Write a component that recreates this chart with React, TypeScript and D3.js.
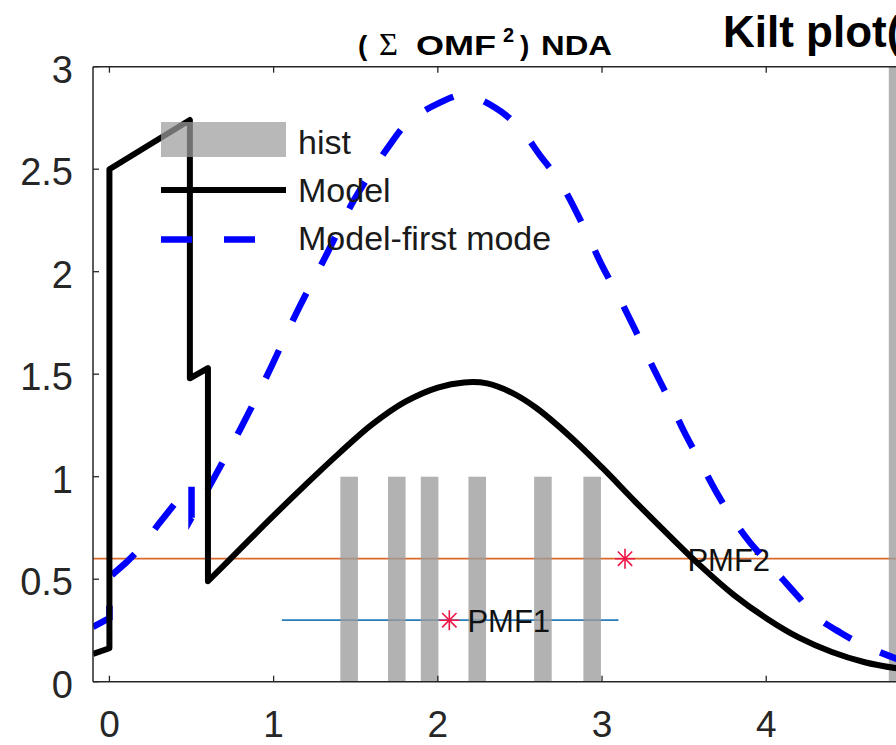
import React from "react";
import * as d3 from "d3";

// ---------- data ----------
const xTicks = [0, 1, 2, 3, 4];
const yTicks = [0, 0.5, 1, 1.5, 2, 2.5, 3];

const histCenters = [1.46, 1.75, 1.95, 2.24, 2.64, 2.94, 4.8];
const histCounts = [1, 1, 1, 1, 1, 1, 3.2];
const histBinWidth = 0.107;

// Model (black solid)
const modelX = [-0.1, 0, 0, 0.49, 0.49, 0.6, 0.6];
const modelY = [0.135, 0.163, 2.5, 2.74, 1.48, 1.53, 0.49];
const modelSmoothX = [0.6, 0.8, 1.0, 1.2, 1.4, 1.6, 1.8, 2.0, 2.16, 2.3, 2.45, 2.6, 2.8, 3.0, 3.2, 3.4, 3.6, 3.8, 4.0, 4.2, 4.4, 4.6, 4.8];
const modelSmoothY = [0.49, 0.65, 0.81, 0.965, 1.115, 1.255, 1.365, 1.435, 1.46, 1.455, 1.41, 1.335, 1.2, 1.045, 0.88, 0.72, 0.565, 0.425, 0.31, 0.215, 0.145, 0.095, 0.065];

// Model-first mode (blue dashed)
const firstModeX = [-0.1, 0, 0, 0.1, 0.2, 0.3, 0.4, 0.5, 0.5, 0.6];
const firstModeY = [0.267, 0.31, 0.51, 0.58, 0.66, 0.77, 0.87, 0.97, 0.8, 0.94];
const firstModeSmoothX = [0.6, 0.8, 0.97, 1.14, 1.32, 1.49, 1.7, 1.82, 2.0, 2.16, 2.35, 2.5, 2.62, 2.75, 2.9, 3.0, 3.1, 3.2, 3.3, 3.4, 3.5, 3.6, 3.7, 3.8, 3.9, 4.0, 4.1, 4.2, 4.3, 4.45, 4.6, 4.8];
const firstModeSmoothY = [0.94, 1.236, 1.51, 1.8, 2.08, 2.35, 2.61, 2.73, 2.82, 2.862, 2.8, 2.7, 2.57, 2.43, 2.2, 2.03, 1.88, 1.72, 1.55, 1.39, 1.22, 1.07, 0.92, 0.79, 0.68, 0.59, 0.5, 0.41, 0.32, 0.24, 0.175, 0.11];

// PMF reference lines
const pmfNames = ["PMF1", "PMF2"];
const pmfLevel = [0.3, 0.6];
const pmfStart = [1.05, -0.1];
const pmfEnd = [3.1, 5];
const pmfStarX = [2.07, 3.14];
const pmfLabelX = [2.18, 3.52];
const pmfColors = ["#2b7bb9", "#d9692a"];

const legendLabels = ["hist", "Model", "Model-first mode"];

// ---------- layout ----------
const W = 896;
const H = 745;
const FONT = "'Liberation Sans', Arial, Helvetica, sans-serif";

export default function App() {
  const x = d3.scaleLinear().domain([-0.1, 5]).range([93, 93 + 5.1 * 164.2]);
  const y = d3.scaleLinear().domain([0, 3]).range([681.7, 66.7]);
  const [x0, x1] = x.range();
  const [yb, yt] = y.range();

  const lin = d3.line<[number, number]>().x((d) => x(d[0])).y((d) => y(d[1]));
  const smooth = d3
    .line<[number, number]>()
    .x((d) => x(d[0]))
    .y((d) => y(d[1]))
    .curve(d3.curveCatmullRom.alpha(0.5));

  const zip = (a: number[], b: number[]) => a.map((v, i) => [v, b[i]] as [number, number]);
  const modelPath =
    (lin(zip(modelX, modelY)) || "") + (smooth(zip(modelSmoothX, modelSmoothY)) || "").replace(/^M/, "L");
  const firstPath =
    (lin(zip(firstModeX, firstModeY)) || "") +
    (smooth(zip(firstModeSmoothX, firstModeSmoothY)) || "").replace(/^M/, "L");

  const barW = x(histBinWidth) - x(0);
  const axisColor = "#262626";

  const star = (cx: number, cy: number, r: number, color: string, key: string) => (
    <g key={key} stroke={color} strokeWidth={1.6}>
      <line x1={cx - r} y1={cy} x2={cx + r} y2={cy} />
      <line x1={cx} y1={cy - r} x2={cx} y2={cy + r} />
      <line x1={cx - r * 0.72} y1={cy - r * 0.72} x2={cx + r * 0.72} y2={cy + r * 0.72} />
      <line x1={cx - r * 0.72} y1={cy + r * 0.72} x2={cx + r * 0.72} y2={cy - r * 0.72} />
    </g>
  );

  return (
    <svg
      width={W}
      height={H}
      viewBox={`0 0 ${W} ${H}`}
      style={{ position: "absolute", left: 0, top: 0, background: "#fff" }}
      fontFamily={FONT}
    >
      <defs>
        <clipPath id="plotClip">
          <rect x={x0} y={yt} width={x1 - x0} height={yb - yt} />
        </clipPath>
      </defs>
      <rect x={0} y={0} width={W} height={H} fill="#fff" />

      {/* titles */}
      <text y={55} fontSize={28} fontWeight="bold" fill="#000">
        <tspan x={358}>(</tspan>
        <tspan x={379} fontWeight="normal" fontFamily="'Liberation Serif', 'DejaVu Serif', serif" fontSize={31} textLength={19} lengthAdjust="spacingAndGlyphs">
          Σ
        </tspan>
        <tspan x={416} fontFamily={FONT} fontWeight="bold" fontSize={28} textLength={80} lengthAdjust="spacingAndGlyphs">
          OMF
        </tspan>
        <tspan x={503} y={42} fontSize={20}>
          2
        </tspan>
        <tspan x={520} y={55}>
          )
        </tspan>
        <tspan x={541} textLength={71} lengthAdjust="spacingAndGlyphs">
          NDA
        </tspan>
      </text>
      <text x={723} y={47} fontSize={44} fontWeight="bold" fill="#000">
        Kilt plot(
      </text>

      <g clipPath="url(#plotClip)">
        {/* PMF lines */}
        {pmfNames.map((n, i) => (
          <line
            key={n}
            x1={x(pmfStart[i])}
            x2={x(pmfEnd[i])}
            y1={y(pmfLevel[i])}
            y2={y(pmfLevel[i])}
            stroke={pmfColors[i]}
            strokeWidth={1.8}
          />
        ))}

        {/* histogram bars */}
        {histCenters.map((c, i) => (
          <rect
            key={i}
            x={x(c - histBinWidth / 2)}
            width={barW}
            y={y(histCounts[i])}
            height={yb - y(histCounts[i])}
            fill="#9c9c9c"
            fillOpacity={0.78}
          />
        ))}

        {/* PMF stars and labels */}
        {pmfNames.map((n, i) => star(x(pmfStarX[i]), y(pmfLevel[i]), 10, "#ee1547", "s" + n))}
        {pmfNames.map((n, i) => (
          <text key={"t" + n} x={x(pmfLabelX[i])} y={y(pmfLevel[i]) + 12} fontSize={31} fill="#111">
            {n}
          </text>
        ))}

        {/* curves */}
        <path d={firstPath} fill="none" stroke="#0000ff" strokeWidth={6.5} strokeDasharray="31 32" />
        <path d={modelPath} fill="none" stroke="#000" strokeWidth={6} strokeLinejoin="round" />
      </g>

      {/* axes box */}
      <line x1={x0} x2={x0} y1={yt} y2={yb} stroke={axisColor} strokeWidth={1.5} />
      <line x1={x0} x2={x1} y1={yb} y2={yb} stroke={axisColor} strokeWidth={1.5} />
      <line x1={x0} x2={x1} y1={yt} y2={yt} stroke={axisColor} strokeWidth={1.5} />
      {xTicks.map((t) => (
        <g key={"xt" + t}>
          <line x1={x(t)} x2={x(t)} y1={yb} y2={yb - 6} stroke={axisColor} strokeWidth={1.3} />
          <line x1={x(t)} x2={x(t)} y1={yt} y2={yt + 6} stroke={axisColor} strokeWidth={1.3} />
          <text x={x(t)} y={737} fontSize={37} textAnchor="middle" fill="#262626">
            {t}
          </text>
        </g>
      ))}
      {yTicks.map((t) => (
        <g key={"yt" + t}>
          <line x1={x0} x2={x0 + 6} y1={y(t)} y2={y(t)} stroke={axisColor} strokeWidth={1.3} />
          <text x={73} y={y(t) + 16} fontSize={38} textAnchor="end" fill="#262626">
            {t}
          </text>
        </g>
      ))}

      {/* legend (transparent background) */}
      <g>
        <rect x={161} y={122} width={125} height={35} fill="#9c9c9c" fillOpacity={0.72} />
        <line x1={161} x2={286} y1={190} y2={190} stroke="#000" strokeWidth={6} />
        <line x1={161} x2={286} y1={239.5} y2={239.5} stroke="#0000ff" strokeWidth={6.5} strokeDasharray="31 32" />
        {legendLabels.map((l, i) => (
          <text key={l} x={298} y={154 + i * 48} fontSize={34} fill="#1a1a1a">
            {l}
          </text>
        ))}
      </g>
    </svg>
  );
}
